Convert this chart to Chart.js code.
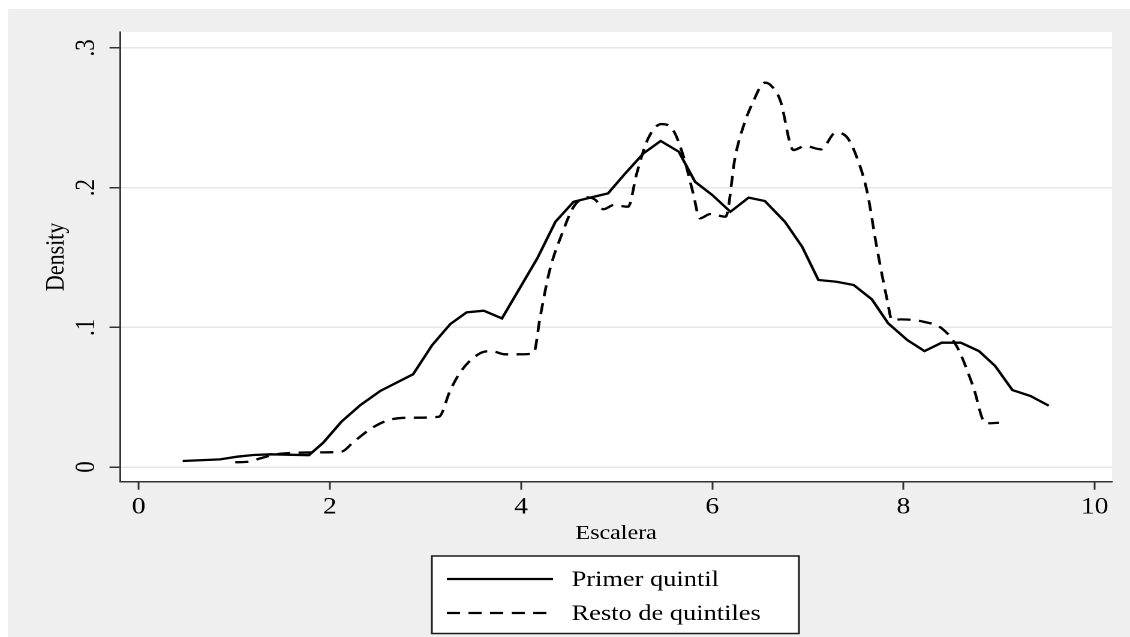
<!DOCTYPE html>
<html>
<head>
    <meta charset="utf-8" />
    <title>Density por quintil</title>
    <style>
        html, body { margin: 0; padding: 0; background: #fff; overflow: hidden; }
        /* the source picture is stretched sideways, so the chart is drawn narrow and widened */
        #wrap { position: absolute; left: 0; top: 0; width: 942px; height: 637px; transform: scaleX(1.19958); transform-origin: 0 0; }
    </style>
</head>
<body>
    <div id="wrap"><canvas id="densityChart"></canvas></div>

    <script src="https://cdn.jsdelivr.net/npm/chart.js@4/dist/chart.umd.min.js"></script>
    <script>
        const seriesNames = ['Primer quintil', 'Resto de quintiles'];

        const primerX = [0.46, 0.85, 1.03, 1.20, 1.38, 1.78, 1.93, 2.12, 2.32, 2.53, 2.87, 3.07, 3.26, 3.43, 3.61, 3.80,
            4.17, 4.36, 4.55, 4.74, 4.91, 5.09, 5.28, 5.46, 5.65, 5.82, 6.00, 6.19, 6.38, 6.55, 6.76, 6.94,
            7.11, 7.30, 7.48, 7.67, 7.84, 8.04, 8.22, 8.40, 8.60, 8.79, 8.96, 9.14, 9.33, 9.52];
        const primerY = [0.0043, 0.0055, 0.0074, 0.0086, 0.0091, 0.0085, 0.0174, 0.0324, 0.0444, 0.0546, 0.0664, 0.0873, 0.1024, 0.1107, 0.1119, 0.1064,
            0.1494, 0.1756, 0.1899, 0.1931, 0.1959, 0.2102, 0.2245, 0.2334, 0.2257, 0.2042, 0.1947, 0.1827, 0.1928, 0.1904, 0.1756, 0.1577,
            0.1339, 0.1326, 0.1303, 0.1200, 0.1029, 0.0909, 0.0830, 0.0890, 0.0890, 0.0830, 0.0723, 0.0551, 0.0508, 0.0439];

        const restoX = [1.01, 1.15, 1.27, 1.44, 1.65, 1.90, 2.12, 2.25, 2.46, 2.66, 2.87, 3.14, 3.26, 3.38, 3.57, 3.69,
            3.83, 3.96, 4.13, 4.20, 4.30, 4.43, 4.55, 4.69, 4.78, 4.86, 4.97, 5.12, 5.21, 5.33, 5.47, 5.59,
            5.70, 5.80, 5.87, 5.98, 6.14, 6.24, 6.33, 6.42, 6.55, 6.61, 6.71, 6.85, 6.97, 7.14, 7.29, 7.41,
            7.51, 7.62, 7.72, 7.83, 7.88, 7.97, 8.21, 8.40, 8.56, 8.73, 8.86, 9.00];
        const restoY = [0.0034, 0.0038, 0.0062, 0.0091, 0.0102, 0.0105, 0.0110, 0.0181, 0.0288, 0.0344, 0.0353, 0.0360, 0.0551, 0.0694, 0.0814, 0.0830,
            0.0807, 0.0807, 0.0814, 0.1076, 0.1410, 0.1673, 0.1863, 0.1931, 0.1911, 0.1845, 0.1875, 0.1863, 0.2102, 0.2353, 0.2455, 0.2412,
            0.2221, 0.1959, 0.1780, 0.1811, 0.1792, 0.2221, 0.2448, 0.2603, 0.2751, 0.2734, 0.2627, 0.2269, 0.2298, 0.2274, 0.2393, 0.2360,
            0.2221, 0.1971, 0.1577, 0.1195, 0.1052, 0.1057, 0.1040, 0.0993, 0.0861, 0.0575, 0.0313, 0.0317];

        const xTickValues = [0, 2, 4, 6, 8, 10];
        const xTickLabels = ['0', '2', '4', '6', '8', '10'];
        const yTickValues = [0, 0.1, 0.2, 0.3];
        const yTickLabels = ['0', '.1', '.2', '.3'];

        const serif = '"Liberation Serif", "Times New Roman", serif';
        Chart.defaults.font.family = serif;
        Chart.defaults.color = '#000';

        function toPoints(xs, ys) {
            return xs.map((x, i) => ({ x: x, y: ys[i] }));
        }

        // grey page, white plot region
        const backdrop = {
            id: 'backdrop',
            beforeDraw(chart) {
                const { ctx, width, height, chartArea } = chart;
                ctx.save();
                ctx.fillStyle = '#ffffff';
                ctx.fillRect(0, 0, width, height);
                ctx.fillStyle = '#efefef';
                ctx.fillRect(6.7, 9, width - 6.7, height - 9);
                ctx.fillStyle = '#ffffff';
                ctx.fillRect(chartArea.left, chartArea.top, chartArea.right - chartArea.left, chartArea.bottom - chartArea.top);
                ctx.restore();
            }
        };

        // Stata style boxed legend, one entry per row
        const boxLegend = {
            id: 'boxLegend',
            afterDraw(chart) {
                const ctx = chart.ctx;
                const left = 360, top = 556, right = 666, bottom = 633.5;
                ctx.save();
                ctx.fillStyle = '#ffffff';
                ctx.fillRect(left, top, right - left, bottom - top);
                ctx.strokeStyle = '#1a1a1a';
                ctx.lineWidth = 1.5;
                ctx.strokeRect(left, top, right - left, bottom - top);
                chart.data.datasets.forEach((ds, i) => {
                    const y = 579 + i * 34;
                    ctx.strokeStyle = ds.borderColor;
                    ctx.lineWidth = ds.borderWidth;
                    ctx.setLineDash(ds.borderDash || []);
                    ctx.beginPath();
                    ctx.moveTo(372.5, y);
                    ctx.lineTo(461, y);
                    ctx.stroke();
                    ctx.setLineDash([]);
                    ctx.fillStyle = '#000';
                    ctx.font = '22px ' + serif;
                    ctx.textBaseline = 'middle';
                    ctx.textAlign = 'left';
                    ctx.fillText(ds.label, 476.5, y + 1);
                });
                ctx.restore();
            }
        };

        const ctx = document.getElementById('densityChart');
        new Chart(ctx, {
            type: 'line',
            data: {
                datasets: [
                    {
                        label: seriesNames[0],
                        data: toPoints(primerX, primerY),
                        borderColor: '#000',
                        borderWidth: 2.3,
                        pointRadius: 0,
                        tension: 0
                    },
                    {
                        label: seriesNames[1],
                        data: toPoints(restoX, restoY),
                        borderColor: '#000',
                        borderWidth: 2.3,
                        borderDash: [11, 7],
                        pointRadius: 0,
                        cubicInterpolationMode: 'monotone'
                    }
                ]
            },
            options: {
                responsive: true,
                maintainAspectRatio: false,
                animation: false,
                devicePixelRatio: 2,
                layout: { padding: { top: 32, right: 15, left: 0, bottom: 0 } },
                plugins: {
                    legend: { display: false },
                    tooltip: { enabled: false }
                },
                scales: {
                    x: {
                        type: 'linear',
                        min: -0.1925,
                        max: 10.182,
                        afterFit: (scale) => { scale.height = 155.3; },
                        afterBuildTicks: (scale) => { scale.ticks = xTickValues.map((v) => ({ value: v })); },
                        grid: { drawOnChartArea: false, drawTicks: true, tickLength: 8, tickColor: '#333', tickWidth: 1.5 },
                        border: { display: true, color: '#333', width: 1.5 },
                        ticks: {
                            padding: 4,
                            maxRotation: 0,
                            font: { size: 23 },
                            callback: (value, index) => xTickLabels[index]
                        },
                        title: {
                            display: true,
                            text: 'Escalera',
                            font: { size: 20 },
                            padding: { top: 0, bottom: 91.5 }
                        }
                    },
                    y: {
                        min: -0.0105,
                        max: 0.3114,
                        afterFit: (scale) => { scale.width = 100.3; },
                        afterBuildTicks: (scale) => { scale.ticks = yTickValues.map((v) => ({ value: v })); },
                        grid: { color: '#e6e6e6', lineWidth: 1.5, drawTicks: true, tickLength: 9, tickColor: '#333', tickWidth: 1.5 },
                        border: { display: true, color: '#333', width: 1.5 },
                        ticks: {
                            padding: 10,
                            minRotation: 90,
                            maxRotation: 90,
                            crossAlign: 'center',
                            font: { size: 23 },
                            callback: (value, index) => yTickLabels[index]
                        },
                        title: {
                            display: true,
                            text: 'Density',
                            font: { size: 22 },
                            padding: { top: 34, bottom: 0 }
                        }
                    }
                }
            },
            plugins: [backdrop, boxLegend]
        });
    </script>
</body>
</html>
